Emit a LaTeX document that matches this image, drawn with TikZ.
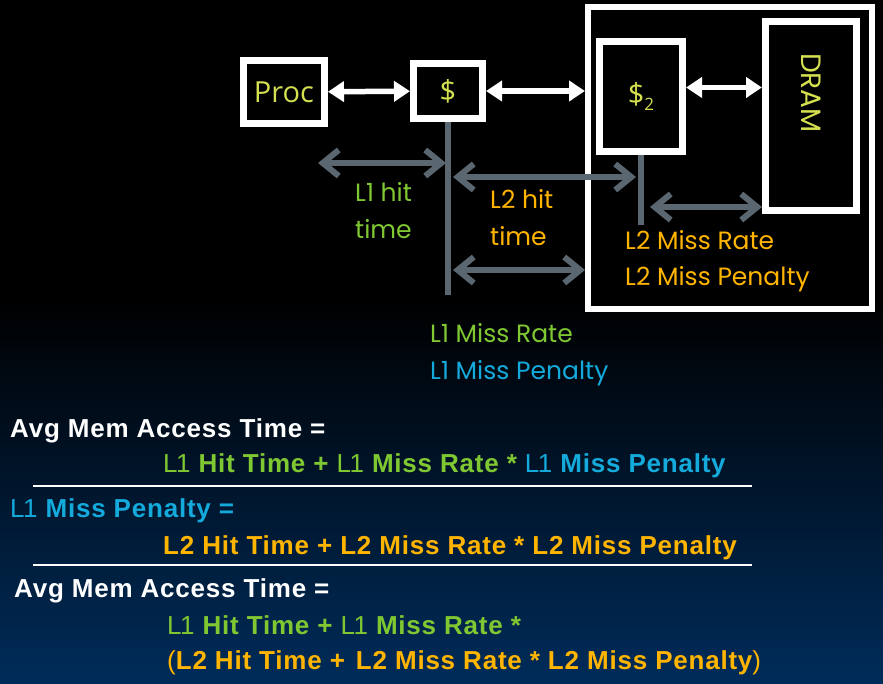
\documentclass[tikz,border=0pt]{standalone}
\usepackage{fontspec}
\setmainfont{Liberation Sans}
\newfontfamily\gothic{Poppins}
\newfontfamily\segoe{Open Sans}
\newfontfamily\eqfont[LetterSpace=3]{Liberation Sans}
\usetikzlibrary{arrows.meta, positioning}

\definecolor{procyellow}{RGB}{212,224,80}
\definecolor{hitgreen}{RGB}{128,200,50}
\definecolor{misscyan}{RGB}{20,170,220}
\definecolor{missorange}{RGB}{255,180,0}
\definecolor{linegray}{RGB}{90,102,112}
\definecolor{deepblue}{RGB}{0,44,90}

\newcommand{\lone}{{\rmfamily\mdseries L\kern-1.5pt 1}}
\newcommand{\thinpar}[1]{{\rmfamily\mdseries #1}}

\tikzset{
  unit/.style={draw=white, line width=7pt, fill=black, text=procyellow, font=\segoe\fontsize{29}{32}\selectfont, inner sep=0pt},
  bus/.style={white, line width=5.5pt, {Triangle[length=16pt,width=20pt]}-{Triangle[length=16pt,width=20pt]}},
  span/.style={linegray, line width=6pt, {Straight Barb[length=16pt,width=26pt]}-{Straight Barb[length=16pt,width=26pt]}},
  tick/.style={linegray, line width=6pt},
  lbl/.style={font=\gothic\fontsize{25}{28}\selectfont, anchor=base west, inner sep=0pt},
  eqn/.style={font=\eqfont\bfseries\fontsize{26}{30}\selectfont, anchor=base west, inner sep=0pt},
  rule/.style={white, line width=2.5pt}
}

\begin{document}
\begin{tikzpicture}[x=1pt, y=-1pt]
    % Background
    \useasboundingbox (0,0) rectangle (883,684);
    \fill[black] (0,0) rectangle (883,684);
    \shade[top color=black, bottom color=deepblue] (0,300) rectangle (883,684);

    % Memory hierarchy
    \node[unit, minimum width=81pt, minimum height=63pt] (proc) at (284,92) {Proc};
    \node[unit, minimum width=69pt, minimum height=55pt] (cache) at (448,91) {\$};
    \node[draw=white, line width=6pt, minimum width=284pt, minimum height=302pt] (outer) at (730,158) {};
    \node[unit, minimum width=83pt, minimum height=110pt] (cache2) at (641,96.5) {};
    \node[text=procyellow, font=\segoe\fontsize{29}{32}\selectfont, inner sep=0pt] (cache2txt) at (641,97) {\$\raisebox{-6pt}{\fontsize{17}{17}\selectfont 2}};
    \node[unit, minimum width=91pt, minimum height=189pt] (dram) at (811,116) {};
    \node[text=procyellow, font=\gothic\fontsize{28}{30}\selectfont, rotate=-90, inner sep=0pt] (dramtxt) at (811,93) {DRAM};

    % Buses
    \draw[bus] (proc) -- (cache);
    \draw[bus] (cache.east) -- (cache.east -| outer.west);
    \draw[bus] ([yshift=9pt]cache2.east) -- ([yshift=9pt]cache2.east -| dram.west);

    % Timing marks
    \coordinate (l1foot) at (450,295);
    \coordinate (l2foot) at (641,225);
    \draw[tick] (cache.south) -- (cache.south |- l1foot);
    \draw[tick] (cache2.south) -- (cache2.south |- l2foot);

    \coordinate (l1hit) at (318,163);
    \coordinate (l2hit) at (453,177);
    \coordinate (l2miss) at (650,207);
    \coordinate (l1miss) at (453,270);
    \draw[span, shorten >=2pt] (l1hit) -- (l1hit -| cache.south);
    \draw[span, shorten >=5pt] (l2hit) -- (l2hit -| cache2.south);
    \draw[span] (l2miss) -- (l2miss -| dram.west);
    \draw[span] (l1miss) -- (l1miss -| outer.west);

    % Labels
    \node[lbl, text=hitgreen] (l1hitA) at (355,202) {L1 hit};
    \node[lbl, text=hitgreen] (l1hitB) at (355,239) {time};
    \node[lbl, text=missorange] (l2hitA) at (490,209) {L2 hit};
    \node[lbl, text=missorange] (l2hitB) at (490,246) {time};
    \node[lbl, text=missorange] (l2rate) at (625,250) {L2 Miss Rate};
    \node[lbl, text=missorange] (l2pen) at (625,286) {L2 Miss Penalty};
    \node[lbl, text=hitgreen] (l1rate) at (430,342) {L1 Miss Rate};
    \node[lbl, text=misscyan] (l1pen) at (430,379) {L1 Miss Penalty};

    % Equations
    \node[eqn, text=white] (amat) at (10,437) {Avg Mem Access Time =};
    \node[eqn] (amatrhs) at (163,472) {\textcolor{hitgreen}{\lone{} Hit Time + \lone{} Miss Rate *} \textcolor{misscyan}{\lone{} Miss Penalty}};
    \draw[rule] (33,486) -- (752,486);
    \node[eqn, text=misscyan] (pen) at (10,517) {\lone{} Miss Penalty =};
    \node[eqn, text=missorange] (penrhs) at (163,554) {L2 Hit Time + L2 Miss Rate * L2 Miss Penalty};
    \draw[rule] (33,565) -- (752,565);
    \node[eqn, text=white] (amat2) at (14,597) {Avg Mem Access Time =};
    \node[eqn, text=hitgreen] (amat2a) at (167,634) {\lone{} Hit Time + \lone{} Miss Rate *};
    \node[eqn, text=missorange] (amat2b) at (167,669) {\thinpar{(}L2 Hit Time +\hspace{3pt} L2 Miss Rate * L2 Miss Penalty\thinpar{)}};
\end{tikzpicture}
\end{document}
